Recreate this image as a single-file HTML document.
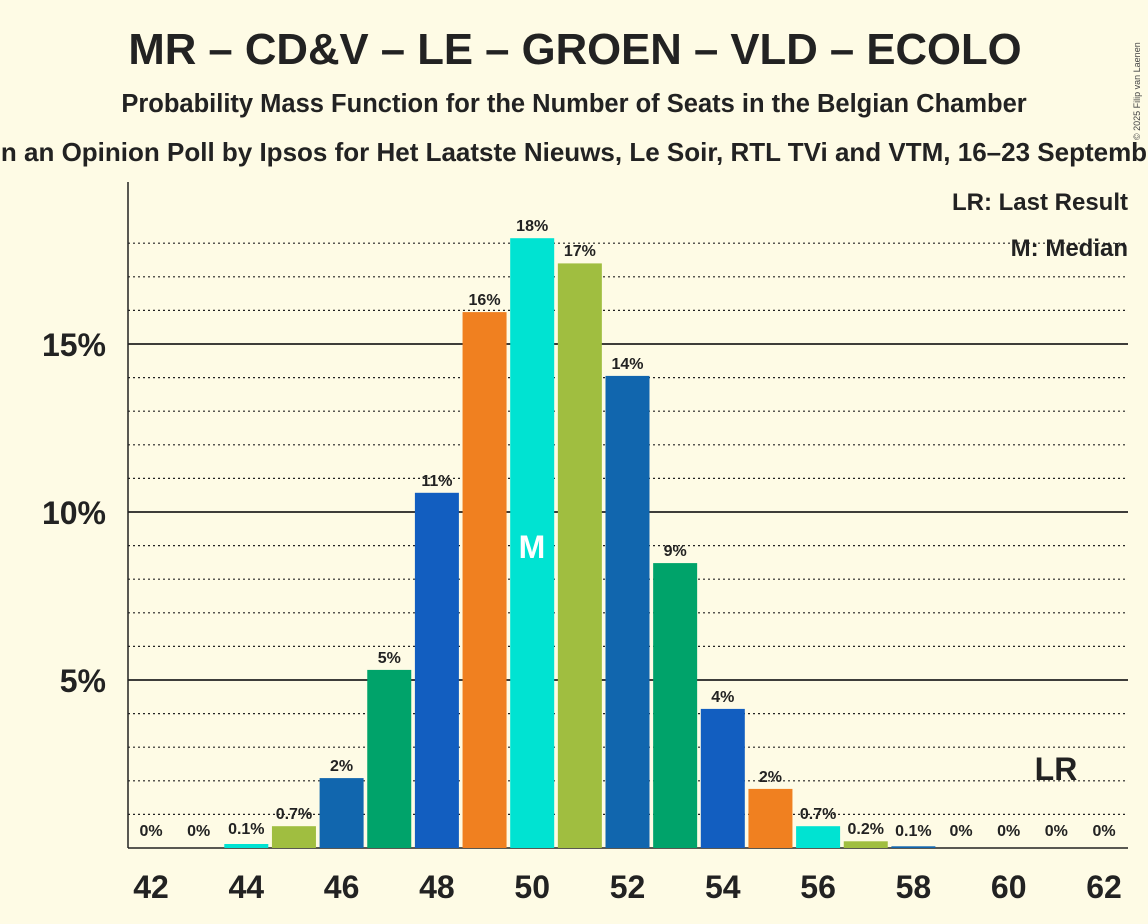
<!DOCTYPE html>
<html><head><meta charset="utf-8"><style>
body{margin:0;background:#fefbe5;}
svg{display:block;font-family:"Liberation Sans",sans-serif;}
</style></head><body>
<svg width="1148" height="924" viewBox="0 0 1148 924">
<rect width="1148" height="924" fill="#fefbe5"/>
<text x="575" y="64" text-anchor="middle" font-size="43.7" font-weight="bold" fill="#222">MR – CD&amp;V – LE – GROEN – VLD – ECOLO</text>
<text x="574" y="112" text-anchor="middle" font-size="25.5" font-weight="bold" fill="#222">Probability Mass Function for the Number of Seats in the Belgian Chamber</text>
<text x="574" y="161" text-anchor="middle" font-size="26" font-weight="bold" fill="#222">n an Opinion Poll by Ipsos for Het Laatste Nieuws, Le Soir, RTL TVi and VTM, 16–23 Septemb</text>
<text x="1140" y="140" font-size="9" fill="#444" transform="rotate(-90 1140 140)">© 2025 Filip van Laenen</text>
<g stroke="#222" stroke-width="1.2" stroke-dasharray="2,3">
<line x1="128" x2="1128" y1="814.4" y2="814.4"/><line x1="128" x2="1128" y1="780.8" y2="780.8"/><line x1="128" x2="1128" y1="747.2" y2="747.2"/><line x1="128" x2="1128" y1="713.6" y2="713.6"/>
<line x1="128" x2="1128" y1="646.4" y2="646.4"/><line x1="128" x2="1128" y1="612.8" y2="612.8"/><line x1="128" x2="1128" y1="579.2" y2="579.2"/><line x1="128" x2="1128" y1="545.6" y2="545.6"/>
<line x1="128" x2="1128" y1="478.4" y2="478.4"/><line x1="128" x2="1128" y1="444.8" y2="444.8"/><line x1="128" x2="1128" y1="411.2" y2="411.2"/><line x1="128" x2="1128" y1="377.6" y2="377.6"/>
<line x1="128" x2="1128" y1="310.4" y2="310.4"/><line x1="128" x2="1128" y1="276.8" y2="276.8"/><line x1="128" x2="1128" y1="243.2" y2="243.2"/>
</g>
<g stroke="#222" stroke-width="1.8">
<line x1="128" x2="1128" y1="680" y2="680"/><line x1="128" x2="1128" y1="512" y2="512"/><line x1="128" x2="1128" y1="344" y2="344"/>
</g>
<line x1="128" y1="182" x2="128" y2="848" stroke="#222" stroke-width="1.5"/>
<line x1="128" y1="848" x2="1128" y2="848" stroke="#222" stroke-width="1.5"/>
<g font-size="32" font-weight="bold" fill="#222" text-anchor="end">
<text x="106" y="692">5%</text><text x="106" y="524">10%</text><text x="106" y="356">15%</text>
</g>
<g>
<rect x="224.3" y="844" width="44" height="4" fill="#00e3d2"/>
<rect x="271.95" y="826.2" width="44" height="21.8" fill="#a0be40"/>
<rect x="319.6" y="778.1" width="44" height="69.9" fill="#1166ae"/>
<rect x="367.25" y="669.9" width="44" height="178.1" fill="#00a36a"/>
<rect x="414.9" y="492.8" width="44" height="355.2" fill="#125ec0"/>
<rect x="462.55" y="312.1" width="44" height="535.9" fill="#f08020"/>
<rect x="510.2" y="238.2" width="44" height="609.8" fill="#00e3d2"/>
<rect x="557.85" y="263.4" width="44" height="584.6" fill="#a0be40"/>
<rect x="605.5" y="375.9" width="44" height="472.1" fill="#1166ae"/>
<rect x="653.15" y="563.1" width="44" height="284.9" fill="#00a36a"/>
<rect x="700.8" y="708.9" width="44" height="139.1" fill="#125ec0"/>
<rect x="748.45" y="788.9" width="44" height="59.1" fill="#f08020"/>
<rect x="796.1" y="826.2" width="44" height="21.8" fill="#00e3d2"/>
<rect x="843.75" y="841.3" width="44" height="6.7" fill="#a0be40"/>
<rect x="891.4" y="846.3" width="44" height="1.7" fill="#1166ae"/>
</g>
<g font-size="16" font-weight="bold" fill="#222" text-anchor="middle">
<text x="151" y="836">0%</text><text x="198.65" y="836">0%</text><text x="246.3" y="834">0.1%</text><text x="293.95" y="819">0.7%</text>
<text x="341.6" y="771">2%</text><text x="389.25" y="663">5%</text><text x="436.9" y="486">11%</text><text x="484.55" y="305">16%</text>
<text x="532.2" y="231">18%</text><text x="579.85" y="256">17%</text><text x="627.5" y="369">14%</text><text x="675.15" y="556">9%</text>
<text x="722.8" y="702">4%</text><text x="770.45" y="782">2%</text><text x="818.1" y="819">0.7%</text><text x="865.75" y="834">0.2%</text>
<text x="913.4" y="836">0.1%</text><text x="961.05" y="836">0%</text><text x="1008.7" y="836">0%</text><text x="1056.35" y="836">0%</text><text x="1104" y="836">0%</text>
</g>
<g font-size="32" font-weight="bold" fill="#222" text-anchor="middle">
<text x="151" y="898">42</text><text x="246.3" y="898">44</text><text x="341.6" y="898">46</text><text x="436.9" y="898">48</text>
<text x="532.2" y="898">50</text><text x="627.5" y="898">52</text><text x="722.8" y="898">54</text><text x="818.1" y="898">56</text>
<text x="913.4" y="898">58</text><text x="1008.7" y="898">60</text><text x="1104" y="898">62</text>
</g>
<text x="532" y="558" text-anchor="middle" font-size="32" font-weight="bold" fill="#fff">M</text>
<text x="1128" y="210" text-anchor="end" font-size="24" font-weight="bold" fill="#222">LR: Last Result</text>
<text x="1128" y="256" text-anchor="end" font-size="24" font-weight="bold" fill="#222">M: Median</text>
<text x="1056" y="780" text-anchor="middle" font-size="32" font-weight="bold" fill="#222">LR</text>
</svg>
</body></html>
